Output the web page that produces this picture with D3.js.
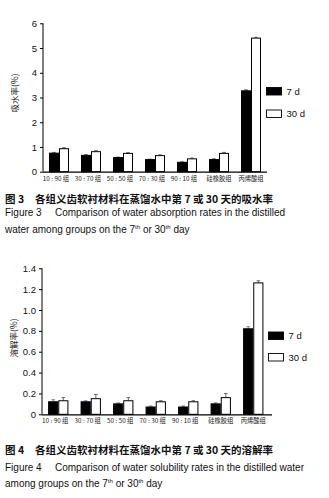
<!DOCTYPE html>
<html><head><meta charset="utf-8">
<script src="https://cdn.jsdelivr.net/npm/d3@7"></script>
<style>
html,body{margin:0;padding:0;background:#fff;}
svg{display:block;}
</style></head>
<body>
<svg id="c" width="329" height="498"></svg>
<script>
const categories = ["10 : 90 组","30 : 70 组","50 : 50 组","70 : 30 组","90 : 10 组","硅橡胶组","丙烯酸组"];
const seriesNames = ["7 d","30 d"];
const absorption7 = [0.75,0.66,0.57,0.49,0.38,0.49,3.27];
const absorption30 = [0.93,0.81,0.74,0.65,0.52,0.74,5.40];
const absorption7Err = [0.03,0.03,0.02,0.02,0.02,0.03,0.04];
const absorption30Err = [0.04,0.04,0.03,0.03,0.03,0.04,0.03];
const absorptionTicks = [0,1,2,3,4,5,6];
const solubility7 = [0.12,0.12,0.10,0.07,0.07,0.10,0.82];
const solubility30 = [0.13,0.15,0.13,0.12,0.12,0.16,1.26];
const solubility7Err = [0.02,0.01,0.01,0.01,0.01,0.01,0.02];
const solubility30Err = [0.03,0.04,0.03,0.01,0.01,0.04,0.02];
const solubilityTicks = [0,0.2,0.4,0.6,0.8,1.0,1.2,1.4];

const svg = d3.select("#c");
const CJK = "'Noto Sans CJK SC','Noto Sans',sans-serif";
const LAT = "'Liberation Sans',Arial,sans-serif";

function drawChart(o){
  const g = svg.append("g");
  const x = d3.scaleBand().domain(categories).range([o.x0, o.x1]).paddingInner(0.375).paddingOuter(0.1875);
  const xs = d3.scaleBand().domain(seriesNames).range([0, x.bandwidth()]);
  const y = d3.scaleLinear().domain([0, o.ymax]).range([o.y0, o.y1]);
  const rows = categories.map((c,i)=>({c, vals:[{s:seriesNames[0],v:o.v7[i],e:o.e7[i]},{s:seriesNames[1],v:o.v30[i],e:o.e30[i]}]}));
  const grp = g.selectAll("g.grp").data(rows).join("g").attr("transform", d=>`translate(${x(d.c)},0)`);
  grp.selectAll("g.err").data(d=>d.vals).join("g").each(function(d){
    const cx = xs(d.s)+xs.bandwidth()/2;
    const s = d3.select(this);
    const col = d.s===seriesNames[0]?o.errc:"#444";
    s.append("line").attr("x1",cx).attr("x2",cx).attr("y1",y(d.v)).attr("y2",y(d.v+d.e)).attr("stroke",col).attr("stroke-width",0.8);
    s.append("line").attr("x1",cx-1.8).attr("x2",cx+1.8).attr("y1",y(d.v+d.e)).attr("y2",y(d.v+d.e)).attr("stroke",col).attr("stroke-width",0.8);
  });
  grp.selectAll("rect").data(d=>d.vals).join("rect")
    .attr("x", d=>xs(d.s)+0.5).attr("width", xs.bandwidth()-1)
    .attr("y", d=>y(d.v)).attr("height", d=>y(0)-y(d.v))
    .attr("fill", d=>d.s===seriesNames[0]?"#000":"#fff")
    .attr("stroke","#000").attr("stroke-width",1);
  const ya = d3.axisLeft(y).tickValues(o.ticks).tickSize(3).tickPadding(3).tickFormat(o.fmt);
  const yg = g.append("g").attr("transform",`translate(${o.x0},0)`).call(ya);
  yg.select(".domain").attr("d",`M0,${o.y0}V${o.y1}`).attr("stroke","#000");
  yg.selectAll("text").attr("font-family",LAT).attr("font-size",9.5).attr("fill","#111");
  g.append("line").attr("x1",o.x0).attr("x2",o.xAxisEnd).attr("y1",o.y0+0.5).attr("y2",o.y0+0.5).attr("stroke","#000").attr("stroke-width",1.2);
  g.selectAll("text.cat").data(categories).join("text").attr("class","cat")
    .attr("x", d=>x(d)+x.bandwidth()/2 - (d.includes(":")?3:0)).attr("y", o.y0+9)
    .attr("text-anchor","middle").attr("font-family",CJK).attr("font-size",6.3).attr("fill","#222").text(d=>d);
  g.append("text").attr("transform",`translate(${o.ylx},${o.yly}) rotate(-90)`).attr("text-anchor","middle")
    .attr("font-family",CJK).attr("font-size",8.5).attr("fill","#222").text(o.ylabel);
  const lg = g.append("g");
  seriesNames.forEach((s,i)=>{
    lg.append("rect").attr("x",o.lx).attr("y",o.ly[i]).attr("width",15).attr("height",7.5)
      .attr("fill",i===0?"#000":"#fff").attr("stroke","#000").attr("stroke-width",0.9);
    lg.append("text").attr("x",o.lx+20).attr("y",o.ly[i]+7).attr("font-family",LAT).attr("font-size",9.5).attr("fill","#111").text(s);
  });
}

const fmt1 = d=>String(d);
const fmt2 = d=> d===0 ? "0" : d3.format(".1f")(d);

drawChart({x0:43,x1:267,xAxisEnd:267,y0:171.7,y1:23.3,ymax:6,v7:absorption7,v30:absorption30,e7:absorption7Err,e30:absorption30Err,
  ticks:absorptionTicks,fmt:fmt1,ylabel:"吸水率(%)",ylx:18,yly:93,lx:266.5,ly:[87.5,110],errc:"#444"});
drawChart({x0:42,x1:269.5,xAxisEnd:272,y0:414.3,y1:268.3,ymax:1.4,v7:solubility7,v30:solubility30,e7:solubility7Err,e30:solubility30Err,
  ticks:solubilityTicks,fmt:fmt2,ylabel:"溶解率(%)",ylx:16.5,yly:338,lx:268.5,ly:[332,353.5],errc:"#5a6a9a"});

function caption(yc, ye1, ye2, num, zh, en1, en2){
  svg.append("text").attr("x",5).attr("y",yc).attr("font-family",CJK).attr("font-weight","bold").attr("font-size",10.5).attr("fill","#111").text("图 "+num);
  svg.append("text").attr("x",35).attr("y",yc).attr("font-family",CJK).attr("font-weight","bold").attr("font-size",10.5).attr("fill","#111").text(zh);
  svg.append("text").attr("x",5).attr("y",ye1).attr("font-family",LAT).attr("font-size",10).attr("fill","#111").text("Figure "+num);
  svg.append("text").attr("x",55).attr("y",ye1).attr("font-family",LAT).attr("font-size",10).attr("fill","#111").text(en1);
  const t = svg.append("text").attr("x",5).attr("y",ye2).attr("font-family",LAT).attr("font-size",10).attr("fill","#111");
  en2.forEach(p=>{
    const ts = t.append("tspan").text(p.t);
    if(p.sup){ ts.attr("font-size",6).attr("dy",-4); }
    else if(p.after){ ts.attr("dy",4); }
  });
}
caption(202.5,216,233,"3","各组义齿软衬材料在蒸馏水中第 7 或 30 天的吸水率","Comparison of water absorption rates in the distilled",
  [{t:"water among groups on the 7"},{t:"th",sup:true},{t:" or 30",after:true},{t:"th",sup:true},{t:" day",after:true}]);
caption(454,470.5,487,"4","各组义齿软衬材料在蒸馏水中第 7 或 30 天的溶解率","Comparison of water solubility rates in the distilled water",
  [{t:"among groups on the 7"},{t:"th",sup:true},{t:" or 30",after:true},{t:"th",sup:true},{t:" day",after:true}]);
</script>
</body></html>
